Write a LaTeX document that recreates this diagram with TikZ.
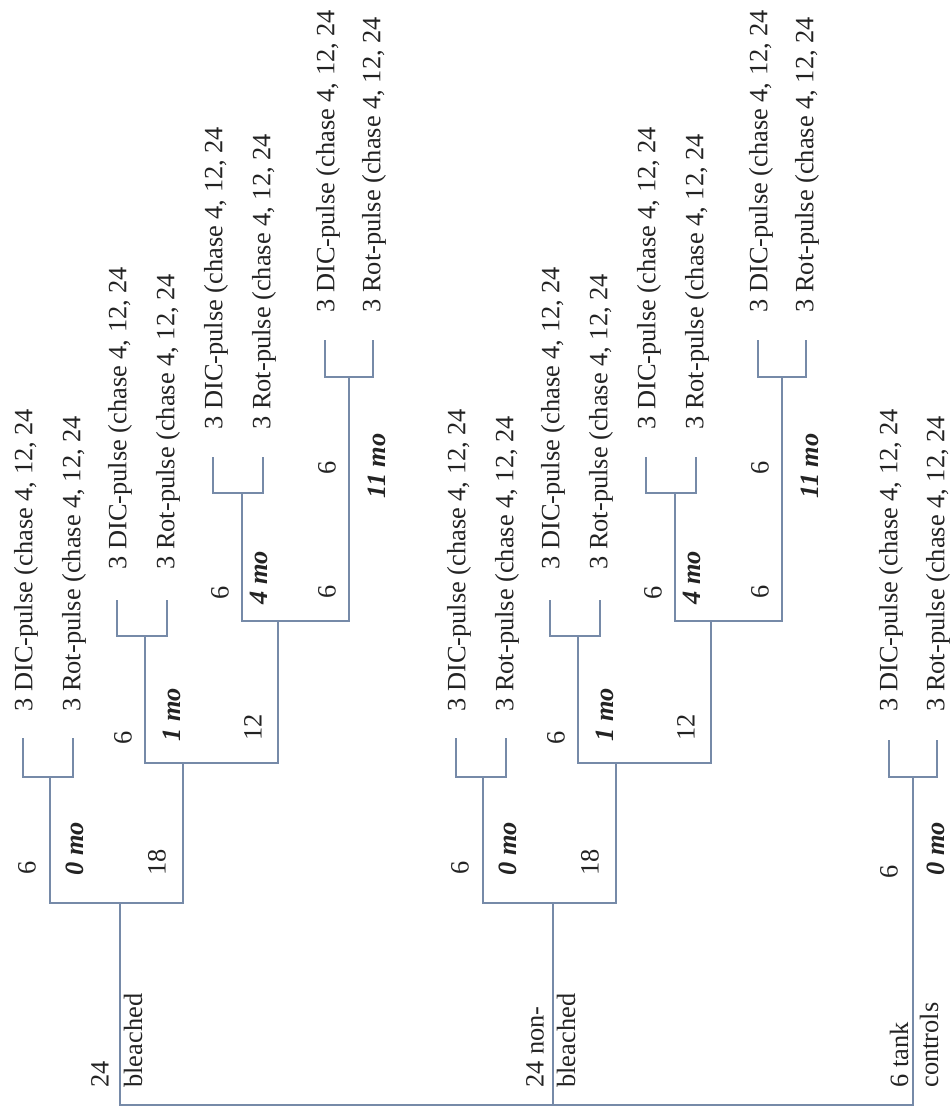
\documentclass[tikz,border=0pt]{standalone}
\usepackage{fontspec}
\setmainfont{Liberation Serif}
\definecolor{ln}{RGB}{118,138,168}
\definecolor{tx}{RGB}{35,35,35}
\begin{document}
\begin{tikzpicture}[x=0.5pt,y=-0.5pt,
  lnk/.style={draw=ln,line width=1pt},
  txt/.style={rotate=90,inner sep=0pt,text=tx,font=\fontsize{13.2}{15}\selectfont},
  leaf/.style={txt,anchor=west},
  lab/.style={txt},
  mo/.style={txt,font=\fontsize{13.2}{15}\selectfont\bfseries\itshape},
  grp/.style={txt,anchor=west}]
\useasboundingbox (0,0) rectangle (952,1115);

\foreach \g/\o in {b/0,n/433}{
  % junctions
  \coordinate (\g-root) at (\o+120,1105);
  \coordinate (\g-j0) at (\o+120,903);
  \coordinate (\g-m0) at (\o+50,903);
  \coordinate (\g-m18) at (\o+183,903);
  \coordinate (\g-k0) at (\o+50,777);
  \coordinate (\g-k18) at (\o+183,763);
  \coordinate (\g-m1) at (\o+145,763);
  \coordinate (\g-m12) at (\o+278,763);
  \coordinate (\g-k1) at (\o+145,636);
  \coordinate (\g-k12) at (\o+278,621);
  \coordinate (\g-m4) at (\o+242,621);
  \coordinate (\g-m11) at (\o+349,621);
  \coordinate (\g-k4) at (\o+242,493);
  \coordinate (\g-k11) at (\o+349,377);
  \draw[lnk] (\g-root) -- (\g-j0);
  \draw[lnk] (\g-k0) -- (\g-m0) -- (\g-m18) -- (\g-k18);
  \draw[lnk] (\g-k1) -- (\g-m1) -- (\g-m12) -- (\g-k12);
  \draw[lnk] (\g-k4) -- (\g-m4) -- (\g-m11) -- (\g-k11);
  % leaf pairs
  \foreach \L/\xl/\xr/\yb/\yt/\ty in {0/23/73/777/738/712, 1/117/167/636/600/570, 4/213/263/493/457/430, 11/325/373/377/340/313}{
    \node[leaf] (\g-d\L) at (\o+\xl+3,\ty) {3 DIC-pulse (chase 4, 12, 24};
    \node[leaf] (\g-r\L) at (\o+\xr+1,\ty) {3 Rot-pulse (chase 4, 12, 24};
    \coordinate (\g-da\L) at (\o+\xl,\yt);
    \coordinate (\g-db\L) at (\o+\xl,\yb);
    \coordinate (\g-ra\L) at (\o+\xr,\yt);
    \coordinate (\g-rb\L) at (\o+\xr,\yb);
    \draw[lnk] (\g-da\L) -- (\g-db\L) -- (\g-rb\L) -- (\g-ra\L);
  }
  % labels
  \node[lab] (\g-n0) at (\o+27,868) {6};
  \node[mo] (\g-mo0) at (\o+75,849) {0 mo};
  \node[lab] (\g-n18) at (\o+157,862) {18};
  \node[lab] (\g-n1) at (\o+123,738) {6};
  \node[mo] (\g-mo1) at (\o+172,715) {1 mo};
  \node[lab] (\g-n12) at (\o+253,727) {12};
  \node[lab] (\g-n4) at (\o+220,593) {6};
  \node[mo] (\g-mo4) at (\o+259,578) {4 mo};
  \node[lab] (\g-n11a) at (\o+327,592) {6};
  \node[lab] (\g-n11b) at (\o+327,468) {6};
  \node[mo] (\g-mo11) at (\o+377,466) {11 mo};
}

% tank controls
\coordinate (t-root) at (913,1105);
\coordinate (t-k) at (913,777);
\coordinate (t-da) at (889,740);
\coordinate (t-db) at (889,777);
\coordinate (t-ra) at (937,740);
\coordinate (t-rb) at (937,777);
\draw[lnk] (b-j0) -- (b-root) -- (t-root) -- (t-k);
\draw[lnk] (n-root) -- (n-j0);
\draw[lnk] (t-da) -- (t-db) -- (t-rb) -- (t-ra);
\node[leaf] (t-d) at (891,712) {3 DIC-pulse (chase 4, 12, 24};
\node[leaf] (t-r) at (938,712) {3 Rot-pulse (chase 4, 12, 24};
\node[lab] (t-n0) at (889,872) {6};
\node[mo] (t-mo0) at (936,849) {0 mo};

% group labels
\node[grp] (b-24) at (100,1088) {24};
\node[grp] (b-bl) at (133,1088) {bleached};
\node[grp] (n-24) at (535,1088) {24 non-};
\node[grp] (n-bl) at (566,1088) {bleached};
\node[grp] (t-6) at (899,1088) {6 tank};
\node[grp] (t-c) at (929,1088) {controls};
\end{tikzpicture}
\end{document}
